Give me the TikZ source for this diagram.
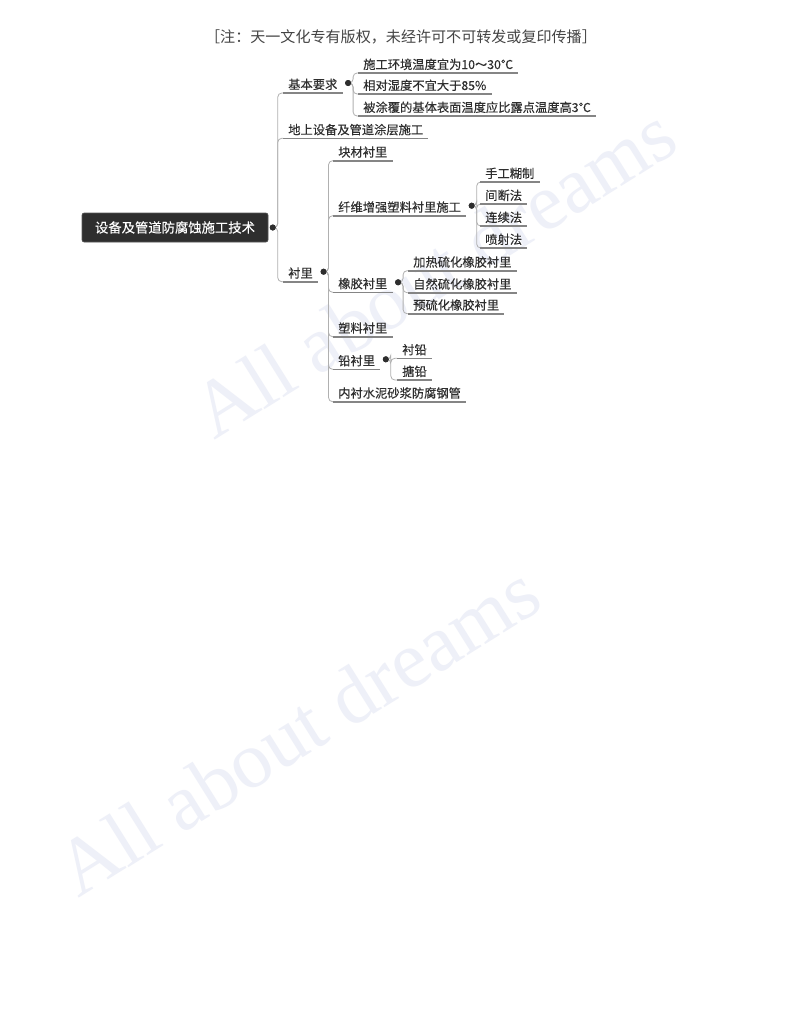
\documentclass[tikz,border=0pt]{standalone}
\usepackage{fontspec}
\setmainfont[FakeBold=0.25]{Noto Sans CJK SC}
\newfontfamily\hdrfont{Noto Sans CJK SC}
\newfontfamily\wmfont{Liberation Serif}
\usetikzlibrary{calc}
\definecolor{txt}{HTML}{2E2E2E}
\definecolor{ulc}{HTML}{858585}
\definecolor{brc}{HTML}{B0B0B0}
\definecolor{wmc}{RGB}{238,240,248}
\definecolor{hdr}{HTML}{444444}
\begin{document}
\begin{tikzpicture}[x=0.75pt,y=-0.75pt,
  lbl/.style={anchor=base west, inner sep=0pt, text=txt, font=\fontsize{9.2}{11}\selectfont},
  uline/.style={draw=ulc, line width=1.2pt},
  branch/.style={draw=brc, line width=0.6pt, rounded corners=3pt},
  dotn/.style={circle, fill=txt, inner sep=0pt, minimum size=4.5pt},
  wm/.style={anchor=base west, inner sep=0pt, text=wmc, rotate=32, font=\wmfont\fontsize{60}{62}\selectfont},
  root/.style={fill=txt, draw=txt!80, rounded corners=1.5pt, text=white, minimum width=186*0.75pt, minimum height=29*0.75pt, inner sep=0pt, font=\fontsize{10}{12}\selectfont}
]
\useasboundingbox[fill=white] (0,0) rectangle (800,1035);

% watermarks
\node[wm] (wm1) at (214,441) {All about dreams};
\node[wm] (wm2) at (78,899) {All about dreams};

% header
\node[text=hdr, font=\hdrfont\fontsize{11.3}{13}\selectfont, inner sep=0pt] (hdr) at (401,37) {［注：天一文化专有版权，未经许可不可转发或复印传播］};

% root
\node[root] (root) at (175,227.5) {设备及管道防腐蚀施工技术};
\node[dotn] (d0) at ($(root.east)+(4.5,0)$) {};

% level 1
\node[lbl] (n1) at (288,89) {基本要求};
\node[lbl] (n2) at (288,134.3) {地上设备及管道涂层施工};
\node[lbl] (n3) at (288,277.7) {衬里};
\node[dotn] (d1) at ($(n1.base east)+(10.5,-6)$) {};
\node[dotn] (d3) at ($(n3.base east)+(10.5,-6)$) {};

% level 2 under 基本要求
\node[lbl] (a1) at (363,69) {施工环境温度宜为10～30℃};
\node[lbl] (a2) at (363,90) {相对湿度不宜大于85\%};
\node[lbl] (a3) at (363,112) {被涂覆的基体表面温度应比露点温度高3℃};

% level 2 under 衬里
\node[lbl] (b1) at (338,156.7) {块材衬里};
\node[lbl] (b2) at (338,211.7) {纤维增强塑料衬里施工};
\node[lbl] (b3) at (338,288.3) {橡胶衬里};
\node[lbl] (b4) at (338,332.7) {塑料衬里};
\node[lbl] (b5) at (338,365.3) {铅衬里};
\node[lbl] (b6) at (338,397.7) {内衬水泥砂浆防腐钢管};
\node[dotn] (d2) at ($(b2.base east)+(10.5,-6)$) {};
\node[dotn] (d4) at ($(b3.base east)+(10.5,-6)$) {};
\node[dotn] (d5) at ($(b5.base east)+(10.5,-6)$) {};

% level 3 under 纤维增强塑料衬里施工
\node[lbl] (c1) at (485,178) {手工糊制};
\node[lbl] (c2) at (485,200) {间断法};
\node[lbl] (c3) at (485,222) {连续法};
\node[lbl] (c4) at (485,244) {喷射法};

% level 3 under 橡胶衬里
\node[lbl] (e1) at (413,266.7) {加热硫化橡胶衬里};
\node[lbl] (e2) at (413,288.7) {自然硫化橡胶衬里};
\node[lbl] (e3) at (413,309.7) {预硫化橡胶衬里};

% level 3 under 铅衬里
\node[lbl] (f1) at (402,354.3) {衬铅};
\node[lbl] (f2) at (402,376) {搪铅};

% connectors and underlines
\foreach \p/\c in {d0/n1,d0/n2,d0/n3,d1/a1,d1/a2,d1/a3,
                   d3/b1,d3/b2,d3/b3,d3/b4,d3/b5,d3/b6,
                   d2/c1,d2/c2,d2/c3,d2/c4,
                   d4/e1,d4/e2,d4/e3,
                   d5/f1,d5/f2}{
  \draw[branch] (\p.center) -- ++(5,0) |- ($(\c.base west)+(-5,4)$);
  \draw[uline] ($(\c.base west)+(-5,4)$) -- ($(\c.base east)+(5,4)$);
}

% dots on top
\foreach \d in {d0,d1,d2,d3,d4,d5}{\node[dotn] at (\d.center) {};}
\end{tikzpicture}
\end{document}
